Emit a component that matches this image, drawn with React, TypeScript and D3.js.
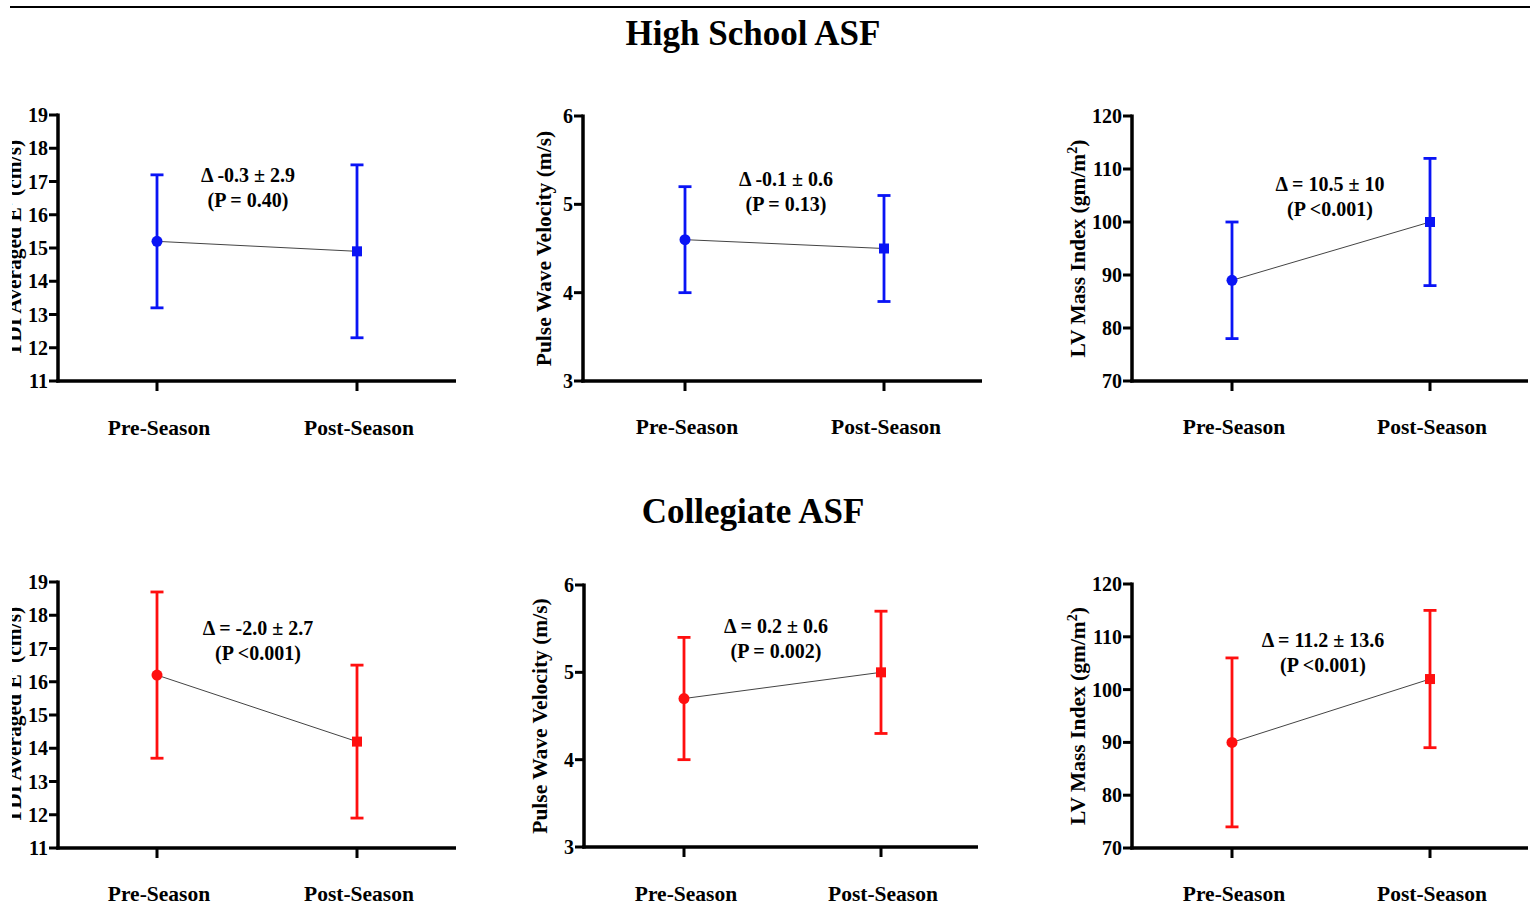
import React from "react";
import * as d3 from "d3";

const categories = ["Pre-Season", "Post-Season"];

// High school
const hsTdiMean = [15.2, 14.9];
const hsTdiLow = [13.2, 12.3];
const hsTdiHigh = [17.2, 17.5];
const hsPwvMean = [4.6, 4.5];
const hsPwvLow = [4.0, 3.9];
const hsPwvHigh = [5.2, 5.1];
const hsLvmMean = [89, 100];
const hsLvmLow = [78, 88];
const hsLvmHigh = [100, 112];

// Collegiate
const colTdiMean = [16.2, 14.2];
const colTdiLow = [13.7, 11.9];
const colTdiHigh = [18.7, 16.5];
const colPwvMean = [4.7, 5.0];
const colPwvLow = [4.0, 4.3];
const colPwvHigh = [5.4, 5.7];
const colLvmMean = [90, 102];
const colLvmLow = [74, 89];
const colLvmHigh = [106, 115];

const tdiTicks = [11, 12, 13, 14, 15, 16, 17, 18, 19];
const pwvTicks = [3, 4, 5, 6];
const lvmTicks = [70, 80, 90, 100, 110, 120];

const FONT = "'Liberation Serif', 'Times New Roman', serif";

type PanelProps = {
  x0: number; x1: number; yTop: number; yBot: number;
  cat0: number; cat1: number; labelY: number;
  ticks: number[]; mean: number[]; low: number[]; high: number[];
  color: string; ylabel: React.ReactNode; ylabelX: number; clipLeft?: number;
  ann1: string; ann2: string; annX: number; annY: number; id: string;
};

function Panel(p: PanelProps) {
  const y = d3.scaleLinear().domain([p.ticks[0], p.ticks[p.ticks.length - 1]]).range([p.yBot, p.yTop]);
  const x = d3.scalePoint<string>().domain(categories).range([p.cat0, p.cat1]);
  const cy = (p.yTop + p.yBot) / 2;
  const pts = categories.map((c, i) => [x(c)!, y(p.mean[i])] as [number, number]);
  const line = d3.line()(pts)!;
  return (
    <g>
      {p.clipLeft !== undefined && (
        <clipPath id={p.id}>
          <rect x={p.clipLeft} y={0} width={2000} height={2000} />
        </clipPath>
      )}
      <g clipPath={p.clipLeft !== undefined ? `url(#${p.id})` : undefined}>
        <text
          transform={`translate(${p.ylabelX},${cy}) rotate(-90)`}
          textAnchor="middle"
          fontFamily={FONT}
          fontWeight="bold"
          fontSize={21.5}
        >
          {p.ylabel}
        </text>
      </g>
      {/* y axis */}
      <line x1={p.x0} x2={p.x0} y1={p.yTop - 1.5} y2={p.yBot + 1.5} stroke="#000" strokeWidth={3.5} />
      {p.ticks.map((t) => (
        <g key={t}>
          <line x1={p.x0 - 9} x2={p.x0} y1={y(t)} y2={y(t)} stroke="#000" strokeWidth={3} />
          <text x={p.x0 - 10} y={y(t)} dy="0.35em" textAnchor="end" fontFamily={FONT} fontWeight="bold" fontSize={20}>
            {t}
          </text>
        </g>
      ))}
      {/* x axis */}
      <line x1={p.x0 - 1.75} x2={p.x1} y1={p.yBot} y2={p.yBot} stroke="#000" strokeWidth={3.5} />
      {categories.map((c) => (
        <g key={c}>
          <line x1={x(c)!} x2={x(c)!} y1={p.yBot} y2={p.yBot + 10} stroke="#000" strokeWidth={3} />
          <text x={x(c)! + 2} y={p.labelY} textAnchor="middle" fontFamily={FONT} fontWeight="bold" fontSize={21.5}>
            {c}
          </text>
        </g>
      ))}
      {/* connecting line */}
      <path d={line} fill="none" stroke="#444" strokeWidth={1} />
      {/* error bars */}
      {categories.map((c, i) => (
        <g key={c} stroke={p.color} strokeWidth={2.8}>
          <line x1={x(c)!} x2={x(c)!} y1={y(p.low[i])} y2={y(p.high[i])} />
          <line x1={x(c)! - 6.5} x2={x(c)! + 6.5} y1={y(p.low[i])} y2={y(p.low[i])} />
          <line x1={x(c)! - 6.5} x2={x(c)! + 6.5} y1={y(p.high[i])} y2={y(p.high[i])} />
        </g>
      ))}
      <circle cx={pts[0][0]} cy={pts[0][1]} r={5.5} fill={p.color} />
      <rect x={pts[1][0] - 5} y={pts[1][1] - 5} width={10} height={10} fill={p.color} />
      <text x={p.annX} y={p.annY} textAnchor="middle" fontFamily={FONT} fontWeight="bold" fontSize={20}>
        {p.ann1}
      </text>
      <text x={p.annX} y={p.annY + 25} textAnchor="middle" fontFamily={FONT} fontWeight="bold" fontSize={20}>
        {p.ann2}
      </text>
    </g>
  );
}

const lvLabel = (
  <>
    LV Mass Index (gm/m<tspan dy="-8" fontSize={14}>2</tspan><tspan dy="8">)</tspan>
  </>
);

export default function App() {
  const blue = "#0a14f5";
  const red = "#ff0f0f";
  return (
    <svg width={1530} height={905} style={{ position: "absolute", left: 0, top: 0, background: "#fff" }}>
      <line x1={10} x2={1530} y1={7} y2={7} stroke="#000" strokeWidth={2} />
      <text x={753} y={45} textAnchor="middle" fontFamily={FONT} fontWeight="bold" fontSize={35}>High School ASF</text>
      <text x={753} y={523} textAnchor="middle" fontFamily={FONT} fontWeight="bold" fontSize={35}>Collegiate ASF</text>

      <Panel id="c1" x0={58} x1={456} yTop={115} yBot={381} cat0={157} cat1={357} labelY={435}
        ticks={tdiTicks} mean={hsTdiMean} low={hsTdiLow} high={hsTdiHigh} color={blue}
        ylabel="TDI Averaged E' (cm/s)" ylabelX={21} clipLeft={12}
        ann1="Δ -0.3 ± 2.9" ann2="(P = 0.40)" annX={248} annY={182} />
      <Panel id="c2" x0={583} x1={982} yTop={116} yBot={381} cat0={685} cat1={884} labelY={434}
        ticks={pwvTicks} mean={hsPwvMean} low={hsPwvLow} high={hsPwvHigh} color={blue}
        ylabel="Pulse Wave Velocity (m/s)" ylabelX={551}
        ann1="Δ -0.1 ± 0.6" ann2="(P = 0.13)" annX={786} annY={186} />
      <Panel id="c3" x0={1132} x1={1528} yTop={116} yBot={381} cat0={1232} cat1={1430} labelY={434}
        ticks={lvmTicks} mean={hsLvmMean} low={hsLvmLow} high={hsLvmHigh} color={blue}
        ylabel={lvLabel} ylabelX={1085}
        ann1="Δ = 10.5 ± 10" ann2="(P <0.001)" annX={1330} annY={191} />

      <Panel id="c4" x0={58} x1={456} yTop={582} yBot={848} cat0={157} cat1={357} labelY={901}
        ticks={tdiTicks} mean={colTdiMean} low={colTdiLow} high={colTdiHigh} color={red}
        ylabel="TDI Averaged E' (cm/s)" ylabelX={21} clipLeft={12}
        ann1="Δ = -2.0 ± 2.7" ann2="(P <0.001)" annX={258} annY={635} />
      <Panel id="c5" x0={584} x1={978} yTop={585} yBot={847} cat0={684} cat1={881} labelY={901}
        ticks={pwvTicks} mean={colPwvMean} low={colPwvLow} high={colPwvHigh} color={red}
        ylabel="Pulse Wave Velocity (m/s)" ylabelX={547}
        ann1="Δ = 0.2 ± 0.6" ann2="(P = 0.002)" annX={776} annY={633} />
      <Panel id="c6" x0={1132} x1={1528} yTop={584} yBot={848} cat0={1232} cat1={1430} labelY={901}
        ticks={lvmTicks} mean={colLvmMean} low={colLvmLow} high={colLvmHigh} color={red}
        ylabel={lvLabel} ylabelX={1085}
        ann1="Δ = 11.2 ± 13.6" ann2="(P <0.001)" annX={1323} annY={647} />
    </svg>
  );
}
